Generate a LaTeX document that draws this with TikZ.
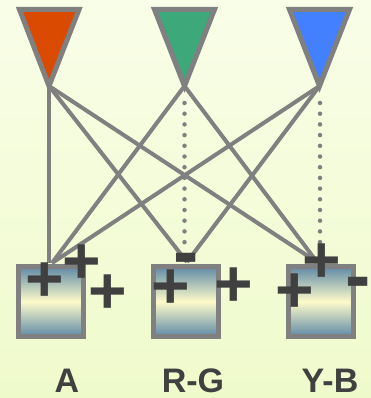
\documentclass[tikz,border=0pt]{standalone}
\usepackage{fontspec}
\setmainfont{Liberation Sans}
\usetikzlibrary{calc}
\definecolor{bgtop}{HTML}{F9FEE8}
\definecolor{bgbot}{HTML}{EFFACB}
\definecolor{edge}{HTML}{808080}
\definecolor{sign}{HTML}{404040}
\definecolor{redf}{HTML}{DA4A00}
\definecolor{greenf}{HTML}{3DA87A}
\definecolor{bluef}{HTML}{4280FF}
\definecolor{boxblue}{HTML}{5F89A7}
\definecolor{boxcream}{HTML}{FDFBCA}
\begin{document}
\begin{tikzpicture}[x=1pt,y=-1pt,
  tri/.style={draw=edge,line width=5pt,line join=miter},
  conn/.style={draw=edge,line width=4pt},
  dotconn/.style={draw=edge,line width=4.5pt,line cap=round,dash pattern=on 0pt off 10.7pt},
  cell/.style={draw=edge,line width=5pt,minimum width=65pt,minimum height=70pt,inner sep=0pt,
    top color=boxblue,bottom color=boxblue,middle color=boxcream},
  sgn/.style={text=sign,inner sep=0pt,anchor=base,font=\fontsize{66}{66}\selectfont\bfseries},
  msgn/.style={text=sign,inner sep=0pt,anchor=base,font=\fontsize{76}{76}\selectfont\bfseries},
  lab/.style={text=sign,anchor=base,inner sep=0pt,font=\fontsize{34}{34}\selectfont\bfseries}]
\useasboundingbox (0,0) rectangle (371,398);
\shade[top color=bgtop,bottom color=bgbot] (0,0) rectangle (371,398);
% apex coordinates
\coordinate (r) at (49,86);
\coordinate (g) at (184.5,86);
\coordinate (b) at (319.5,86);
% boxes
\node[cell] (A) at (51,301.5) {};
\node[cell] (RG) at (186,301.5) {};
\node[cell] (YB) at (321,301.5) {};
\coordinate (tA) at (52,263);
\coordinate (tRG) at (187,262);
\coordinate (tYB) at (317,262);
% connectors
\draw[conn] (r) -- (r |- tA);
\draw[conn] (r) -- (tRG);
\draw[conn] (r) -- (tYB);
\draw[conn] (g) -- (tA);
\draw[conn] (g) -- (tYB);
\draw[conn] (b) -- (tA);
\draw[conn] (b) -- (tRG);
\coordinate (gd0) at (184.5,103);
\coordinate (gd1) at (184.5,250);
\coordinate (bd0) at (320,103);
\coordinate (bd1) at (320,250);
\draw[dotconn] (gd0) -- (gd1);
\draw[dotconn] (bd0) -- (bd1);
% triangles
\draw[tri,fill=redf] (19.5,9.5) -- (79,9.5) -- (r) -- cycle;
\draw[tri,fill=greenf] (154.5,9.5) -- (214.5,9.5) -- (g) -- cycle;
\draw[tri,fill=bluef] (289.5,9.5) -- (349.5,9.5) -- (b) -- cycle;
% signs (base placed below glyph centre)
\node[sgn] (pA1) at (45,301) {+};
\node[sgn] (pA2) at (82,283) {+};
\node[sgn] (pA3) at (108,313) {+};
\node[msgn] (mRG) at (186.5,277) {-};
\node[sgn] (pRG1) at (171,308) {+};
\node[sgn] (pRG2) at (234,306) {+};
\node[sgn] (pYB1) at (322,282) {+};
\node[sgn] (pYB2) at (295,312) {+};
\node[msgn] (mYB) at (358,301) {-};
% labels
\node[lab] (lA) at (67,392) {A};
\node[lab] (lRG) at (193,392) {R-G};
\node[lab] (lYB) at (330,392) {Y-B};
\end{tikzpicture}
\end{document}
